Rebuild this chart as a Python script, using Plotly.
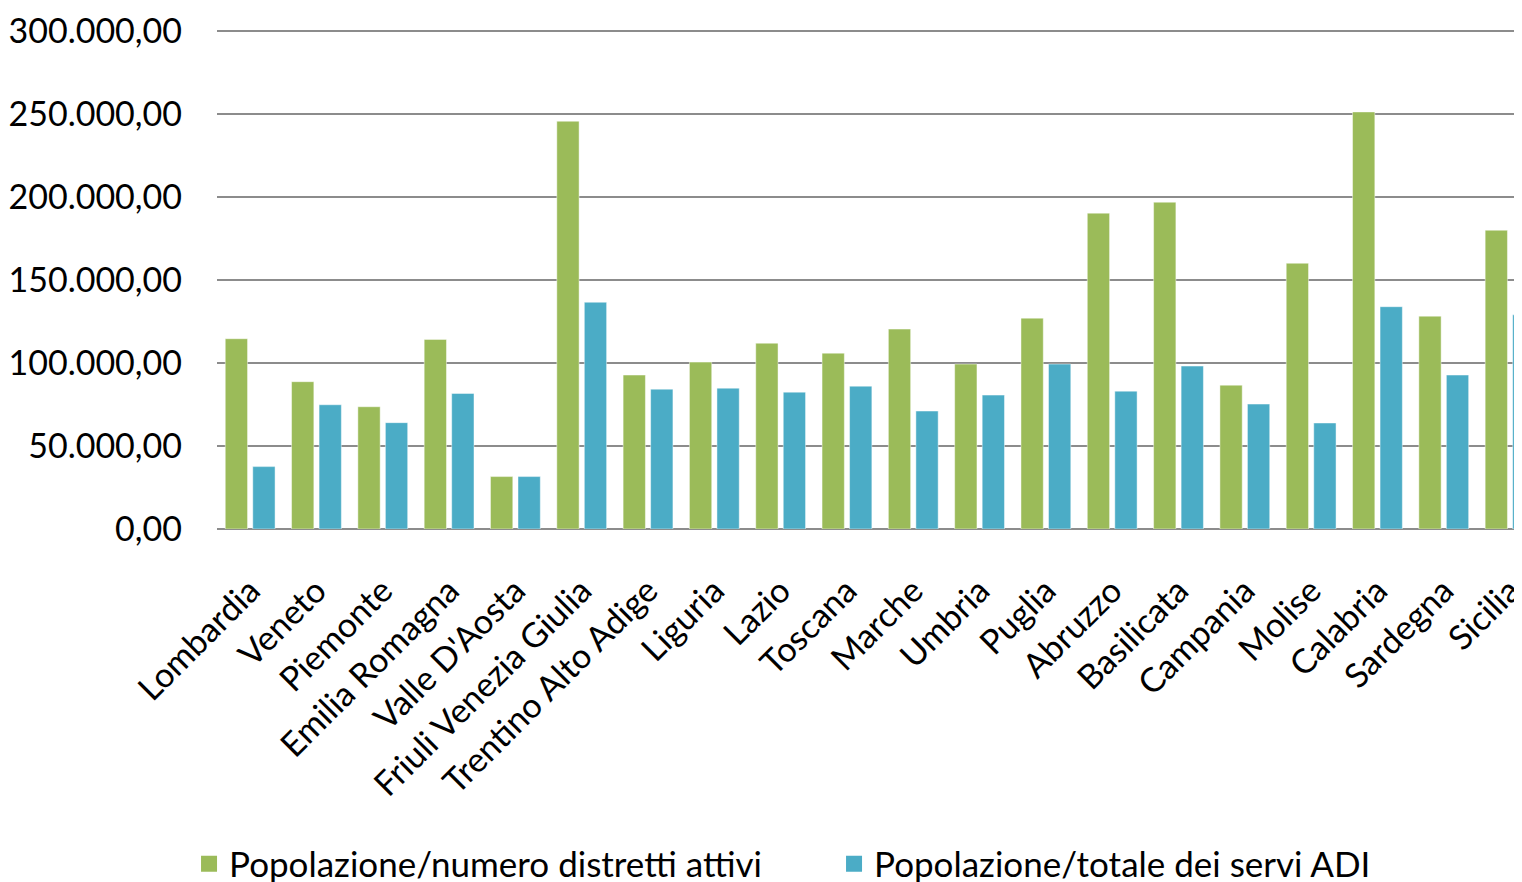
import plotly.graph_objects as go

# ── Data ─────────────────────────────────────────────────────────────────────

regioni = [
    "Lombardia", "Veneto", "Piemonte", "Emilia Romagna", "Valle D'Aosta",
    "Friuli Venezia Giulia", "Trentino Alto Adige", "Liguria", "Lazio", "Toscana",
    "Marche", "Umbria", "Puglia", "Abruzzo", "Basilicata",
    "Campania", "Molise", "Calabria", "Sardegna", "Sicilia",
]
distretti_attivi = [
    114700, 88800, 73700, 114300, 31600,
    245800, 92800, 100600, 112000, 106000,
    120500, 99400, 127100, 190400, 197000,
    86700, 160200, 251400, 128300, 180100,
]
servizi_adi = [
    37600, 74900, 64100, 81700, 31600,
    136700, 84300, 84900, 82500, 86100,
    71100, 80700, 99400, 83100, 98200,
    75300, 63900, 134000, 92800, 129100,
]
y_ticks = [0, 50000, 100000, 150000, 200000, 250000, 300000]
y_tick_text = ["0,00", "50.000,00", "100.000,00", "150.000,00", "200.000,00", "250.000,00", "300.000,00"]

GREEN = "#9BBB59"
BLUE = "#4BACC6"
FONT = "Lato"

fig = go.Figure()
for name, vals, col in [
    ("Popolazione/numero distretti attivi", distretti_attivi, GREEN),
    ("Popolazione/totale dei servi ADI", servizi_adi, BLUE),
]:
    fig.add_trace(go.Bar(
        x=regioni, y=vals, name=name, marker_color=col,
        marker_line=dict(color="rgba(255,255,255,0.45)", width=1),
        showlegend=False,
    ))
    # legend-only marker so the swatch can be larger
    fig.add_trace(go.Scatter(
        x=[None], y=[None], mode="markers", name=name,
        marker=dict(symbol="square", size=20, color=col),
    ))

# page body has an 8px margin, so the figure is sized to fit inside the window
fig.update_layout(
    width=1514, height=874,
    margin=dict(l=209, r=0, t=20, b=353),
    paper_bgcolor="white", plot_bgcolor="white",
    barmode="group", bargap=0.17, bargroupgap=0.19,
    font=dict(family=FONT, size=34, color="black"),
    legend=dict(
        orientation="h", xref="container", yref="container",
        x=0.5456, xanchor="center", y=0.0206, yanchor="middle",
        font=dict(size=35), itemwidth=30, entrywidth=600,
    ),
    xaxis=dict(
        range=[-0.5, 19.18], tickangle=-45, showgrid=False,
        ticks="", ticklabelstandoff=34, automargin=False,
    ),
    yaxis=dict(
        range=[0, 302000], tickvals=y_ticks, ticktext=y_tick_text,
        showgrid=True, gridcolor="#8c8c8c", gridwidth=2,
        zeroline=True, zerolinecolor="#8c8c8c", zerolinewidth=2,
        ticks="", ticklabelstandoff=34, automargin=False,
    ),
)

fig.write_html("out.html")
